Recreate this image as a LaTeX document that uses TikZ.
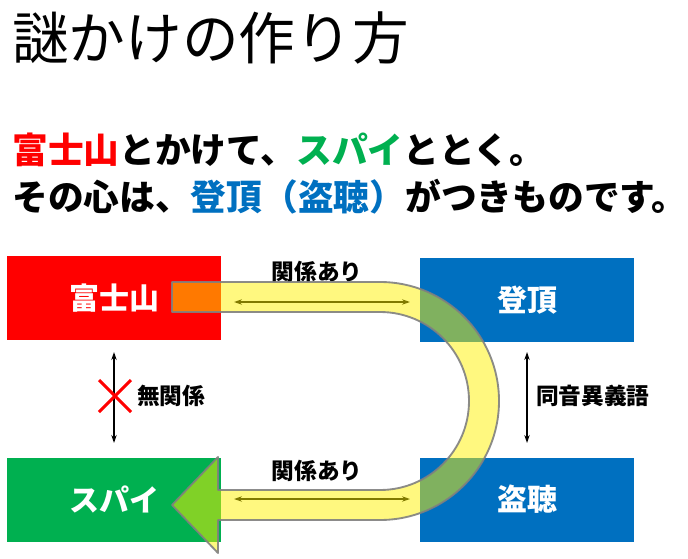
\documentclass[tikz,border=0pt]{standalone}
\usepackage{fontspec}
\newfontfamily\jp{Noto Sans CJK JP}
\usetikzlibrary{arrows.meta}
\definecolor{fujired}{RGB}{255,0,0}
\definecolor{spygreen}{RGB}{0,176,80}
\definecolor{wordblue}{RGB}{0,112,192}
\begin{document}
\begin{tikzpicture}[
    x=0.75pt, y=0.75pt,
    box/.style={rectangle, inner sep=0pt, minimum width=160.5pt, minimum height=63pt, text=white, font=\jp\bfseries\fontsize{22.5}{26}\selectfont},
    lbl/.style={inner sep=0pt, font=\jp\bfseries\fontsize{17}{20}\selectfont},
    line/.style={inner sep=0pt, anchor=west, font=\jp\bfseries\fontsize{26.8}{32}\selectfont},
    link/.style={{Stealth[length=6pt,width=4pt]}-{Stealth[length=6pt,width=4pt]}, line width=1pt},
    band/.style={fill=yellow, fill opacity=0.5, draw=gray, draw opacity=0.9, line width=1.4pt, line join=round}
]
\useasboundingbox (0,0) rectangle (688,558);

% Title
\node[inner sep=0pt, anchor=west, font=\jp\fontsize{42.5}{48}\selectfont] (title) at (12,520) {謎かけの作り方};

% Riddle text
\node[line] (riddle1) at (12,408) {\textcolor{fujired}{富士山}とかけて、\textcolor{spygreen}{スパイ}ととく。};
\node[line] (riddle2) at (12,361) {その心は、\textcolor{wordblue}{登頂（盗聴）}がつきものです。};

% Boxes
\node[box, fill=fujired] (fuji) at (114,260) {富士山};
\node[box, fill=wordblue] (summit) at (527,258) {登頂};
\node[box, fill=spygreen] (spy) at (114,58.5) {スパイ};
\node[box, fill=wordblue] (wiretap) at (527,58.5) {盗聴};

% Relations
\coordinate (fujiA) at (234,256);
\coordinate (summitA) at (410,256);
\coordinate (spyA) at (234,59);
\coordinate (wiretapA) at (410,59);
\draw[link] (fujiA) -- (summitA);
\draw[link] (spyA) -- (wiretapA);
\node[lbl] (rel1) at (317,286) {関係あり};
\node[lbl] (rel2) at (317,87) {関係あり};

\coordinate (fujiB) at (114,206);
\coordinate (spyB) at (114,115);
\coordinate (summitB) at (527,206);
\coordinate (wiretapB) at (527,115);
\draw[link] (fujiB) -- (spyB);
\draw[link] (summitB) -- (wiretapB);
\draw[fujired, line width=2.2pt] (99,146) -- (131,178) (99,178) -- (131,146);
\node[lbl, anchor=west] (norel) at (137,162) {無関係};
\node[lbl, anchor=west] (homo) at (536,162) {同音異義語};

% U-turn arrow
\draw[band] (172,276) -- (380,276) arc[start angle=90, end angle=-90, radius=119]
    -- (218,38) -- (218,5) -- (172,53) -- (218,101) -- (218,68) -- (380,68)
    arc[start angle=-90, end angle=90, radius=89] -- (172,246) -- cycle;

\end{tikzpicture}
\end{document}
